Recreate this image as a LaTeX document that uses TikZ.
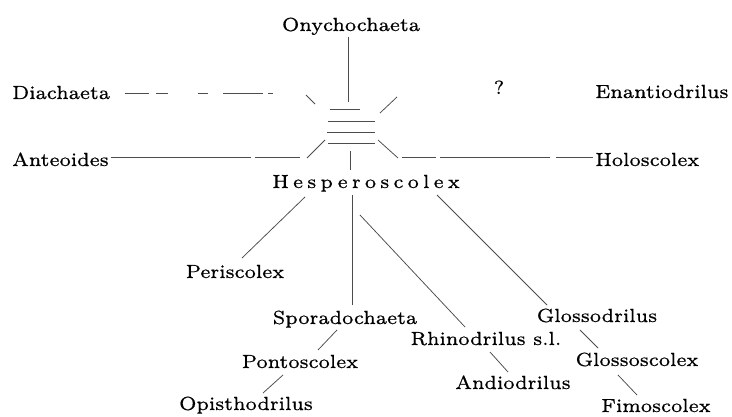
\documentclass[tikz,border=0pt]{standalone}
\usepackage{fontspec}
\setmainfont{lmroman7-regular.otf}[FakeStretch=1.04, FakeBold=0.6]
\tikzset{
  lbl/.style={inner sep=0pt, font=\fontsize{19}{22}\selectfont},
  ln/.style={draw=black!70, line width=0.75pt},
}
\begin{document}
\begin{tikzpicture}[x=1pt,y=1pt]
\useasboundingbox[fill=white] (0,0) rectangle (732,416);
\coordinate (hub) at (351,290);
% labels
\node[lbl,anchor=base] (ony) at (351,385) {Onychochaeta};
\node[lbl,anchor=base west] (dia) at (12,317) {Diachaeta};
\node[lbl,anchor=base west] (ena) at (595,318) {Enantiodrilus};
\node[lbl,anchor=base west] (ant) at (12,250) {Anteoides};
\node[lbl,anchor=base west] (hol) at (595,250) {Holoscolex};
\node[lbl,anchor=base] (q) at (499,322) {?};
\node[lbl,anchor=base] (hesp) at (366,228) {\addfontfeatures{LetterSpace=22}Hesperoscolex};
\node[lbl,anchor=base] (peri) at (235,138) {Periscolex};
\node[lbl,anchor=base] (spor) at (345,92) {Sporadochaeta};
\node[lbl,anchor=base] (rhin) at (486,71) {Rhinodrilus s.l.};
\node[lbl,anchor=base] (glossd) at (597,94) {Glossodrilus};
\node[lbl,anchor=base] (pont) at (300,48) {Pontoscolex};
\node[lbl,anchor=base] (andi) at (513,27) {Andiodrilus};
\node[lbl,anchor=base] (glosss) at (637,50) {Glossoscolex};
\node[lbl,anchor=base] (opis) at (246,6) {Opisthodrilus};
\node[lbl,anchor=base] (fimo) at (656,4) {Fimoscolex};
% central bars
\draw[ln] ([shift={(-21,17)}]hub) -- ([shift={(9,17)}]hub);
\draw[ln] ([shift={(-23,5)}]hub) -- ([shift={(24,5)}]hub);
\draw[ln] ([shift={(-24,-6)}]hub) -- ([shift={(24,-6)}]hub);
\draw[ln] ([shift={(-23,-17)}]hub) -- ([shift={(24,-17)}]hub);
% rays around the hub
\draw[ln] ([shift={(-3,-6)}]ony.base) -- ([shift={(-3,24)}]hub);
\draw[ln, dash pattern=on 24pt off 7pt on 12pt off 30pt on 10pt off 15pt on 40pt off 5pt on 11pt]
  ([shift={(15,6)}]dia.base east) -- ([shift={(-78,33)}]hub);
\draw[ln] ([shift={(-45,31)}]hub) -- ([shift={(-36,22)}]hub);
\draw[ln] ([shift={(29,13)}]hub) -- ([shift={(46,29)}]hub);
\draw[ln, dash pattern=on 140pt off 4pt on 60pt] ([shift={(2,9)}]ant.base east) -- ([shift={(-51,-31)}]hub);
\draw[ln] ([shift={(-44,-32)}]hub) -- ([shift={(-26,-14)}]hub);
\draw[ln] ([shift={(27,-14)}]hub) -- ([shift={(47,-32)}]hub);
\draw[ln, dash pattern=on 34pt off 4pt on 110pt off 6pt on 50pt] ([shift={(51,-31)}]hub) -- ([shift={(-2,9)}]hol.base west);
\draw[ln] ([shift={(-1,-25)}]hub) -- ([shift={(-16,18)}]hesp.base);
% tree below Hesperoscolex
\draw[ln] ([shift={(-61,-9)}]hesp.base) -- ([shift={(7,20)}]peri.base);
\draw[ln] ([shift={(-14,-7)}]hesp.base) -- ([shift={(7,19)}]spor.base);
\draw[ln] ([shift={(-6,-27)}]hesp.base) -- ([shift={(-21,18)}]rhin.base);
\draw[ln] ([shift={(71,-7)}]hesp.base) -- ([shift={(-50,17)}]glossd.base);
\draw[ln] ([shift={(-8,-6)}]spor.base) -- ([shift={(18,18)}]pont.base);
\draw[ln] ([shift={(-17,-7)}]pont.base) -- ([shift={(17,17)}]opis.base);
\draw[ln] ([shift={(4,-7)}]rhin.base) -- ([shift={(-5,17)}]andi.base);
\draw[ln] ([shift={(-17,-8)}]glossd.base) -- ([shift={(-39,18)}]glosss.base);
\draw[ln] ([shift={(-19,-9)}]glosss.base) -- ([shift={(-19,17)}]fimo.base);
\end{tikzpicture}
\end{document}
